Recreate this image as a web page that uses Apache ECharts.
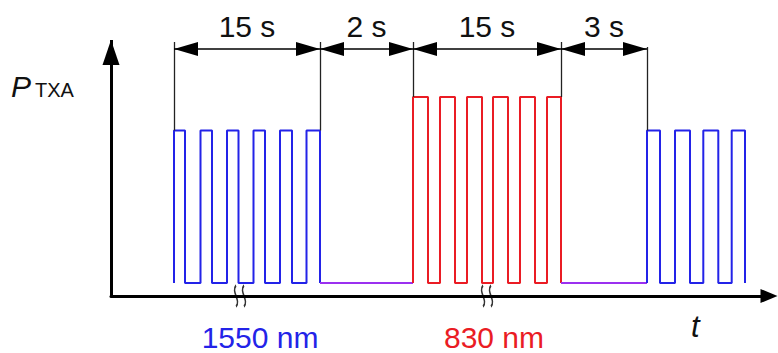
<!DOCTYPE html>
<html><head><meta charset="utf-8">
<script src="https://cdn.jsdelivr.net/npm/echarts@6/dist/echarts.min.js"></script>
<style>html,body{margin:0;padding:0;background:#fff}#c{width:778px;height:353px}</style>
</head><body><div id="c"></div>
<script>
// Schematic time units (x) and power units (y)
const blue1Rise = [63, 89.5, 116, 142.5, 169, 195.5];
const blue1Fall = [74, 101, 127.5, 154, 181, 209];
const redRise = [302, 329, 356, 382, 409, 436];
const redFall = [317, 344, 371, 397, 424, 450];
const blue2Rise = [536, 564, 592.3, 620.7];
const blue2Fall = [549, 579, 607.3, 634];
const lowLevel = 13;
const blueHigh = 165.5;
const redHigh = 199;
const gap1 = [209, 302];
const gap2 = [450, 536];
const spanStart = [63, 209, 302, 450];
const spanEnd = [209, 302, 450, 536];
const spanLabels = ['15 s', '2 s', '15 s', '3 s'];
const spanLevel = 247;
const extX = [63, 209, 302, 450, 536];
const extBottom = [165.5, 165.5, 199, 199, 165.5];
const extTops = [254, 254, 254, 254, 249];
const yAxisTop = 256;
const breakTimes = [129, 376];
const wavelengthLabels = ['1550 nm', '830 nm'];
const yLabelMain = 'P';
const yLabelSub = 'TXA';
const xLabel = 't';

const BLUE = '#2323e8', RED = '#ea1c24', PURPLE = '#9b30f0';
const FONT = '"Liberation Sans", Arial, Helvetica, sans-serif';

function pulses(rises, falls, low, high) {
  const pts = [];
  for (let i = 0; i < rises.length; i++) {
    pts.push([rises[i], low], [rises[i], high], [falls[i], high], [falls[i], low]);
  }
  return pts;
}
function waveSeries(data, color) {
  return { type: 'line', data: data, showSymbol: false, symbol: 'none', clip: false,
    lineStyle: { color: color, width: 2 }, animation: false, silent: true, z: 3 };
}

const chart = echarts.init(document.getElementById('c'), null, { renderer: 'svg' });
const option = {
  animation: false,
  grid: { left: 111, right: 9, top: 0, bottom: 57 },
  xAxis: { type: 'value', min: 0, max: 658,
    axisLine: { show: true, onZero: false, symbol: ['none', 'triangle'], symbolSize: [14, 17],
      lineStyle: { color: '#000', width: 3 } },
    axisTick: { show: false }, axisLabel: { show: false }, splitLine: { show: false } },
  yAxis: { type: 'value', min: 0, max: 296,
    axisLine: { show: false }, axisTick: { show: false }, axisLabel: { show: false }, splitLine: { show: false } },
  series: [
    waveSeries(pulses(blue1Rise, blue1Fall, lowLevel, blueHigh), BLUE),
    waveSeries(gap1.map(x => [x, lowLevel]), PURPLE),
    waveSeries(pulses(redRise, redFall, lowLevel, redHigh), RED),
    waveSeries(gap2.map(x => [x, lowLevel]), PURPLE),
    waveSeries(pulses(blue2Rise, blue2Fall, lowLevel, blueHigh), BLUE),
    // y axis with arrow
    { type: 'line', data: [], clip: false, silent: true,
      markLine: { silent: true, animation: false,
        symbol: ['none', 'triangle'],
        symbolSize: [17, 25],
        symbolOffset: [[0, 12.5], [0, 12.5]],
        itemStyle: { color: '#000' },
        lineStyle: { color: '#000', width: 3, type: 'solid' },
        label: { show: false },
        data: [[{ coord: [0, 0] }, { coord: [0, yAxisTop] }]] } },
    // extension lines
    { type: 'line', data: [], clip: false, silent: true,
      markLine: { silent: true, animation: false,
        symbol: ['none', 'none'],
        lineStyle: { color: '#222', width: 1.3, type: 'solid' },
        label: { show: false },
        data: extX.map((x, i) => [{ coord: [x, extBottom[i]] }, { coord: [x, extTops[i]] }]) } },
    // dimension arrows
    { type: 'line', data: [], clip: false, silent: true,
      markLine: { silent: true, animation: false,
        symbol: ['triangle', 'triangle'],
        symbolSize: [14, 24],
        symbolOffset: [[0, 12], [0, 12]],
        itemStyle: { color: '#000' },
        lineStyle: { color: '#000', width: 1.6, type: 'solid' },
        label: { show: true, position: 'insideMiddleTop', distance: 8, formatter: p => p.name,
          fontSize: 30, fontFamily: FONT, color: '#111' },
        data: spanStart.map((s, i) => [{ name: spanLabels[i], coord: [s, spanLevel] }, { coord: [spanEnd[i], spanLevel] }]) } },
    // axis break marks
    { type: 'scatter', data: breakTimes.map(t => [t, 0]), clip: false, silent: true, z: 5,
      symbol: 'path://M4 0 C0 6 8 14 4 20 M10 0 C6 6 14 14 10 20',
      symbolSize: [11, 21],
      itemStyle: { color: 'none', borderColor: '#000', borderWidth: 2 } }
  ],
  graphic: [
    { type: 'text', left: 11, top: 71, style: { text: yLabelMain, font: 'italic 30px ' + FONT, fill: '#111' } },
    { type: 'text', left: 35, top: 80, style: { text: yLabelSub, font: '20px ' + FONT, fill: '#111' } },
    { type: 'text', left: 691, top: 311, style: { text: xLabel, font: 'italic 31px ' + FONT, fill: '#111' } },
    { type: 'text', x: 260, y: 337, style: { text: wavelengthLabels[0], font: '30px ' + FONT, fill: BLUE, align: 'center', verticalAlign: 'middle' } },
    { type: 'text', x: 494, y: 337, style: { text: wavelengthLabels[1], font: '30px ' + FONT, fill: RED, align: 'center', verticalAlign: 'middle' } }
  ]
};
chart.setOption(option);
</script></body></html>
